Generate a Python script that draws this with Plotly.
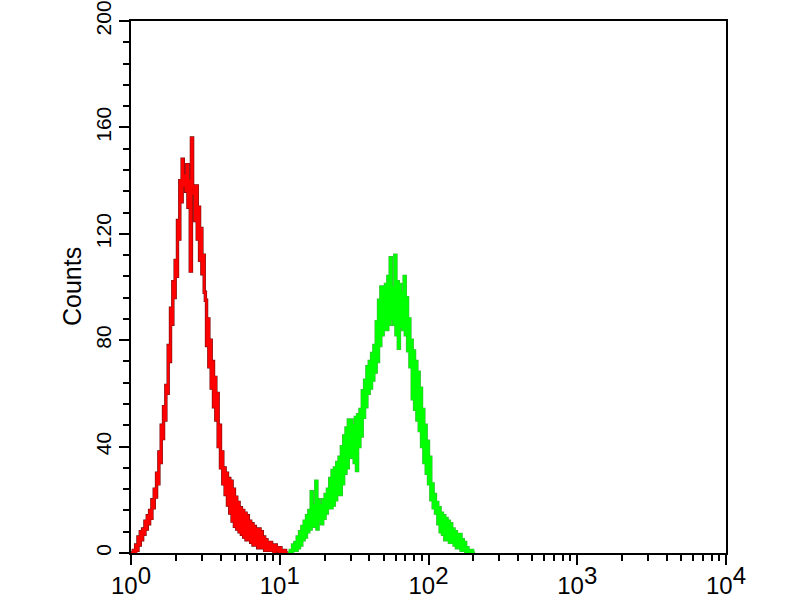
import plotly.graph_objects as go

# Histogram channels (1024-channel log scale, 256 channels per decade)
CH_PER_DECADE = 256

red_channels = list(range(0, 272, 2))
red_counts = [
    0, 0, 1, 0, 3, 1, 6, 3, 8, 5, 9, 7, 12, 9, 14, 11, 16, 13, 20, 17,
    24, 21, 30, 26, 38, 34, 48, 43, 55, 50, 63, 60, 78, 72, 92, 86, 102, 96, 110, 104,
    125, 118, 140, 132, 148, 138, 142, 136, 146, 130, 140, 106, 156, 138, 135, 125, 138, 118, 130, 110,
    122, 105, 112, 98, 95, 78, 88, 70, 80, 62, 72, 55, 66, 50, 60, 40, 48, 32, 38, 26,
    32, 22, 30, 18, 28, 15, 27, 12, 24, 10, 21, 9, 19, 8, 17, 7, 16, 6, 15, 5,
    14, 5, 12, 4, 11, 3, 10, 3, 9, 2, 9, 2, 8, 2, 6, 1, 5, 1, 4, 1,
    4, 1, 3, 0, 3, 1, 2, 0, 2, 0, 1, 0, 1, 0, 0, 0,
]

green_channels = list(range(270, 594, 2))
green_counts = [
    0, 0, 1, 0, 3, 1, 4, 1, 6, 2, 8, 3, 10, 5, 12, 6, 14, 8, 16, 9,
    23, 10, 18, 10, 27, 9, 20, 12, 18, 11, 20, 13, 22, 15, 24, 17, 28, 17, 31, 18,
    32, 20, 34, 22, 36, 22, 40, 26, 44, 30, 47, 32, 50, 36, 50, 36, 48, 34, 51, 31,
    52, 40, 54, 44, 61, 51, 65, 55, 70, 60, 72, 62, 75, 65, 78, 68, 87, 72, 95, 78,
    100, 82, 100, 84, 101, 84, 104, 86, 111, 88, 100, 86, 112, 82, 102, 77, 101, 85, 98, 84,
    104, 82, 96, 76, 88, 70, 80, 58, 76, 54, 72, 50, 68, 46, 62, 40, 54, 34, 48, 30,
    42, 26, 36, 20, 26, 17, 22, 15, 19, 11, 17, 8, 15, 7, 14, 5, 13, 5, 12, 4,
    11, 4, 9, 3, 8, 2, 7, 2, 7, 1, 5, 1, 4, 0, 2, 0, 1, 0, 1, 0,
    0, 0,
]

x_tick_vals = [1, 10, 100, 1000, 10000]
x_tick_exps = ["0", "1", "2", "3", "4"]
y_tick_vals = [0, 40, 80, 120, 160, 200]

FS = 24
x_tick_text = [f"10<sup><span style='font-size:{FS}px'>{e}</span></sup>" for e in x_tick_exps]


def to_intensity(channels):
    return [10 ** (c / CH_PER_DECADE) for c in channels]


red_x = to_intensity(red_channels)
green_x = to_intensity(green_channels)

fig = go.Figure()
for xs, ys, dark, bright in [
    (red_x, red_counts, "#7a0c0c", "#ff0000"),
    (green_x, green_counts, "#3dbb3d", "#00ff00"),
]:
    fig.add_trace(go.Scatter(x=xs, y=ys, mode="lines", line=dict(color=dark, width=3.4, shape="hv"),
                             showlegend=False, hoverinfo="skip"))
    fig.add_trace(go.Scatter(x=xs, y=ys, mode="lines", line=dict(color=bright, width=2.2, shape="hv"),
                             showlegend=False))

minor_x = [m * 10 ** d for d in range(4) for m in range(2, 10)]

font = dict(family="Liberation Sans, Arial, sans-serif", size=FS, color="black")
yfont = dict(family="Liberation Sans, Arial, sans-serif", size=21, color="black")

fig.update_layout(
    width=800, height=600,
    paper_bgcolor="white", plot_bgcolor="white",
    margin=dict(l=131, r=74, t=21, b=47, autoexpand=False),
    font=font,
    showlegend=False,
    xaxis=dict(
        type="log", range=[0, 4],
        tickmode="array", tickvals=x_tick_vals, ticktext=x_tick_text,
        ticks="outside", ticklen=10, tickwidth=2, tickcolor="black",
        ticklabeloverflow="allow",
        minor=dict(tickmode="array", tickvals=minor_x, ticks="outside", ticklen=6, tickwidth=2, tickcolor="black", showgrid=False),
        showline=True, linecolor="black", linewidth=2, mirror=True,
        showgrid=False, zeroline=False, tickfont=font,
    ),
    yaxis=dict(
        range=[0, 200],
        tickmode="array", tickvals=y_tick_vals,
        tickangle=-90, ticklabeloverflow="allow",
        ticks="outside", ticklen=10, tickwidth=2, tickcolor="black",
        minor=dict(dtick=8, ticks="outside", ticklen=6, tickwidth=2, tickcolor="black", showgrid=False),
        showline=True, linecolor="black", linewidth=2, mirror=True,
        showgrid=False, zeroline=False, tickfont=yfont,
    ),
    annotations=[dict(
        text="Counts", xref="paper", yref="paper",
        x=(72 - 131) / 595, y=0.5, xanchor="center", yanchor="middle",
        textangle=-90, showarrow=False,
        font=dict(family="Liberation Sans, Arial, sans-serif", size=25, color="black"),
    )],
)

# remove the default 8px page margin so the figure sits at the window's top-left corner
fig.write_html("out.html", config={"displayModeBar": False},
               post_script="document.body.style.margin='0';")
